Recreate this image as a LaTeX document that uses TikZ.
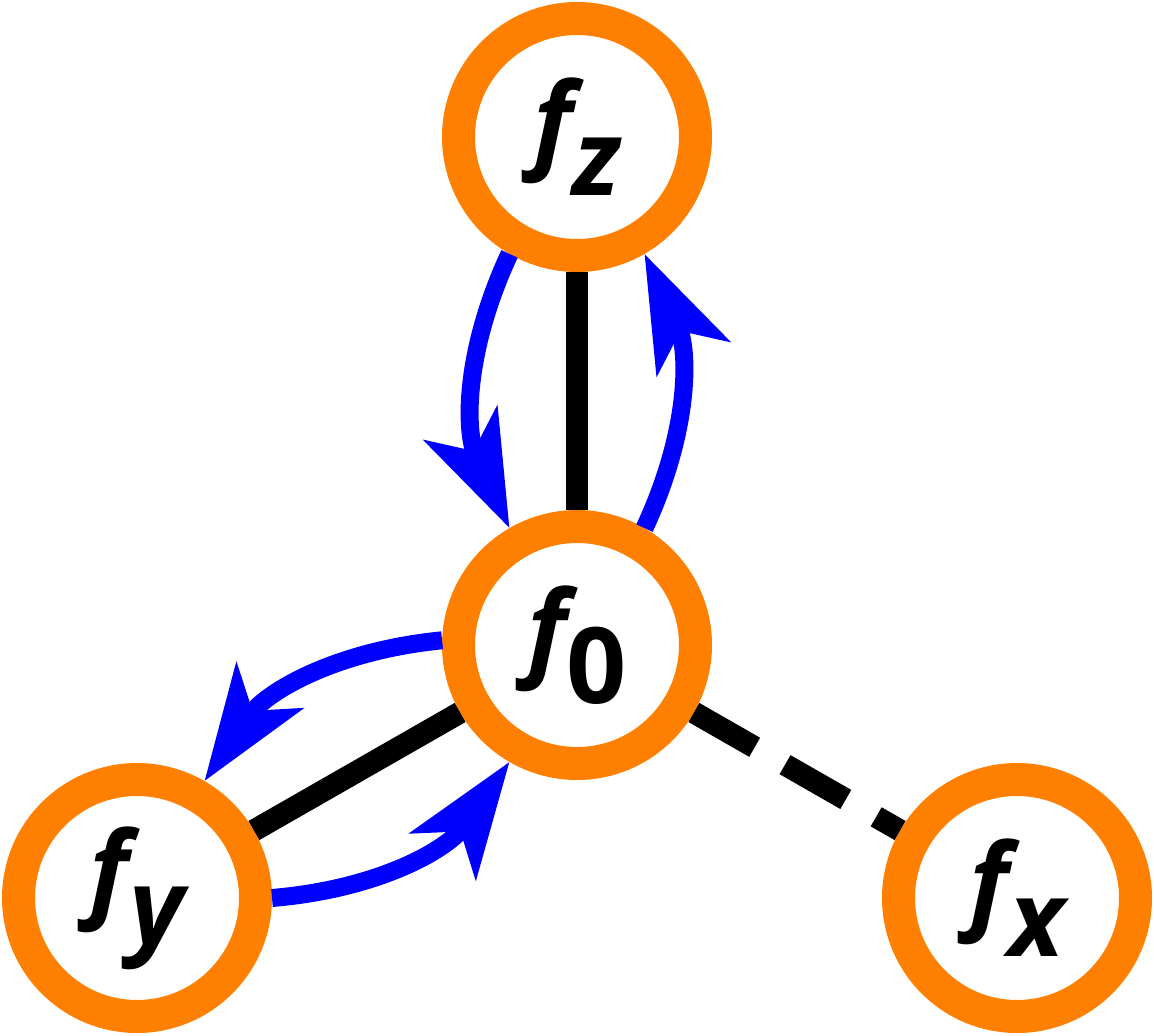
\documentclass[tikz,border=0pt]{standalone}
\usepackage{fontspec}
\setmainfont{Open Sans}
\usetikzlibrary{arrows.meta}
\definecolor{ringorange}{RGB}{255,128,0}
\newcommand{\fsub}[1]{\bfseries\itshape f\raisebox{-.35em}{#1}}

\begin{document}
\begin{tikzpicture}[ring/.style={circle, draw=ringorange, fill=white, line width=0.33cm, minimum size=2.37cm, inner sep=0pt, font=\fontsize{30}{36}\selectfont},
 link/.style={line width=0.22cm, black},
 flow/.style={line width=0.18cm, blue, -{Stealth[length=1.15cm, width=0.8cm, inset=0.3cm]}}]
\useasboundingbox (0,0) rectangle (11.54,10.35);

\node[ring] (f0) at (5.77,3.90) {\fsub{\upshape 0}};
\node[ring] (fz) at (5.77,8.98) {\fsub{z}};
\node[ring] (fy) at (1.37,1.37) {\fsub{y}};
\node[ring] (fx) at (10.17,1.37) {\fsub{x}};

\draw[link] (f0.north) -- (fz.south);
\draw[link] (f0.210) -- (fy.30);
\draw[link, dash pattern=on 0.7cm off 0.35cm] (f0.-30) -- (fx.150);

\draw[flow] (f0.60) to[bend right=25] (fz.-60);
\draw[flow] (fz.-120) to[bend right=25] (f0.120);
\draw[flow] (f0.178) to[bend right=25] (fy.60);
\draw[flow] (fy.0) to[bend right=25] (f0.-120);
\end{tikzpicture}
\end{document}
